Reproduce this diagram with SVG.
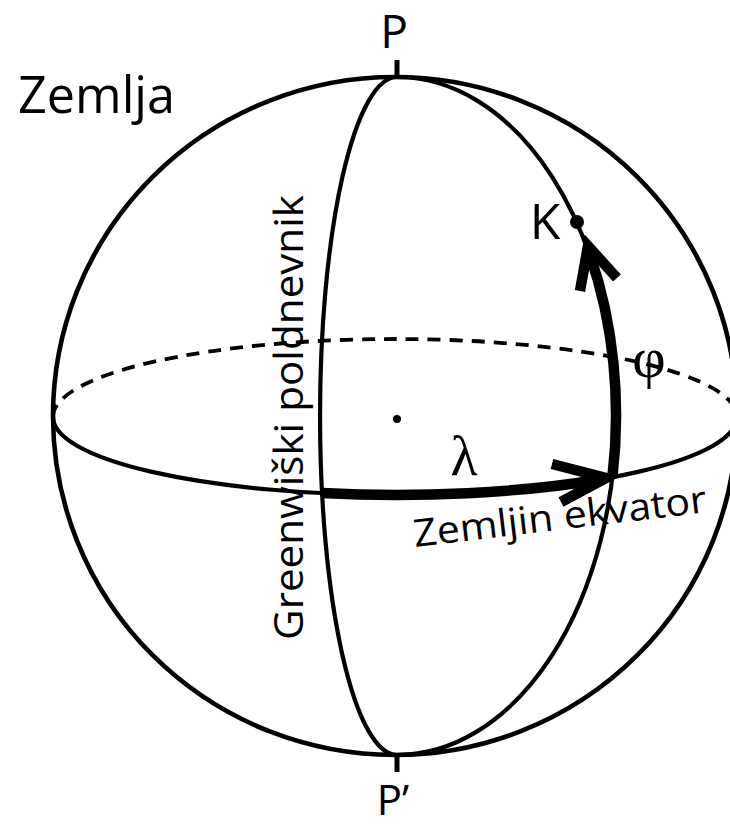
<svg xmlns="http://www.w3.org/2000/svg" width="730" height="826" viewBox="0 0 730 826">
<style>
.thin{fill:none;stroke:#000;stroke-width:4.2;stroke-linecap:round}
.outer{fill:none;stroke:#000;stroke-width:4.6}
.dash{fill:none;stroke:#000;stroke-width:3.8;stroke-dasharray:13 9}
.thick{fill:none;stroke:#000;stroke-width:10.5}
.head{fill:none;stroke:#000;stroke-width:10.5;stroke-linejoin:miter;stroke-miterlimit:10}
.lbl{font-family:"Open Sans","Liberation Sans",sans-serif;fill:#000}
.greek{font-family:"Liberation Serif","DejaVu Serif",serif;fill:#000}
</style>
<rect width="730" height="826" fill="#fff"/>
<g id="earth">
<ellipse cx="395" cy="416" rx="342" ry="339" class="outer"/>
<line x1="397" y1="60" x2="397" y2="78" stroke="#000" stroke-width="5"/>
<line x1="397" y1="755" x2="397" y2="772" stroke="#000" stroke-width="5"/>
<circle cx="397" cy="419" r="4" fill="#000"/>
</g>
<g id="equator">
<path d="M53,417 A342,78 0 0 1 737,417" class="dash"/>
<path d="M53,417 A342,78 0 0 0 737,417" class="thin"/>
</g>
<g id="greenwich">
<path d="M397,77 A77,339 0 0 0 397,755" class="thin"/>
</g>
<g id="meridianK">
<path d="M397,77 A219,339 0 0 1 397,755" class="thin"/>
<circle cx="577" cy="222" r="7" fill="#000"/>
</g>
<g id="connectors">
<path d="M322,493 A342,78 0 0 0 600,479.5" class="thick"/>
<polyline points="552,464 606,478 561,502" class="head"/>
<path d="M612.4,477 A219,339 0 0 0 590,255" class="thick"/>
<polyline points="580,291 588,246 617,278" class="head"/>
</g>
<g id="labels">
<text x="18" y="113" class="lbl" font-size="52" textLength="157" lengthAdjust="spacingAndGlyphs">Zemlja</text>
<text x="394" y="48" class="lbl" font-size="46" text-anchor="middle">P</text>
<text x="393" y="815" class="lbl" font-size="42" text-anchor="middle">P’</text>
<text x="545" y="239" class="lbl" font-size="50" text-anchor="middle">K</text>
<text x="464" y="475" class="greek" font-size="56" text-anchor="middle">λ</text>
<text x="649" y="377" class="greek" font-size="58" text-anchor="middle">φ</text>
<text transform="translate(415,547) rotate(-6.8)" class="lbl" font-size="38" textLength="295" lengthAdjust="spacingAndGlyphs">Zemljin ekvator</text>
<text transform="translate(303,417.5) rotate(-90)" class="lbl" font-size="40" text-anchor="middle" textLength="445" lengthAdjust="spacingAndGlyphs">Greenwiški poldnevnik</text>
</g>
</svg>
